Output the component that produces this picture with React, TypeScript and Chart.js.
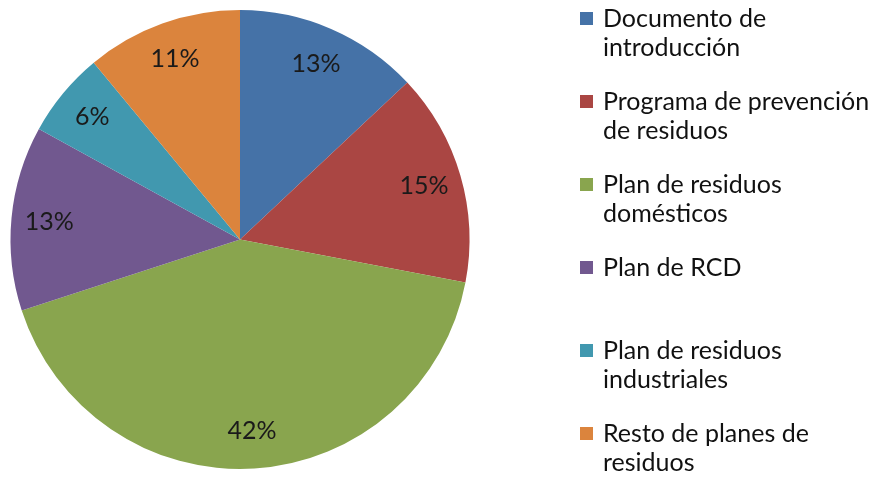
import React, { useEffect, useRef } from "react";
import { Chart, registerables } from "chart.js";

Chart.register(...registerables);

const categories: string[][] = [
  ["Documento de", "introducción"],
  ["Programa de prevención", "de residuos"],
  ["Plan de residuos", "domésticos"],
  ["Plan de RCD"],
  ["Plan de residuos", "industriales"],
  ["Resto de planes de", "residuos"],
];
const values: number[] = [13, 15, 42, 13, 6, 11];
const colors: string[] = ["#4572A7", "#AA4643", "#89A54E", "#71588F", "#4198AF", "#DB843D"];

const FONT = "Lato, 'Open Sans', sans-serif";

const labelPlugin = {
  id: "pctLabels",
  afterDatasetsDraw(chart: any) {
    const ctx = chart.ctx as CanvasRenderingContext2D;
    const meta = chart.getDatasetMeta(0);
    const total = values.reduce((a, b) => a + b, 0);
    ctx.save();
    ctx.font = `25px ${FONT}`;
    ctx.fillStyle = "#1a1a1a";
    ctx.textAlign = "center";
    ctx.textBaseline = "middle";
    meta.data.forEach((arc: any, i: number) => {
      const { x, y, startAngle, endAngle, outerRadius } = arc.getProps(
        ["x", "y", "startAngle", "endAngle", "outerRadius"],
        true
      );
      const mid = (startAngle + endAngle) / 2;
      const r = outerRadius * 0.835;
      const pct = Math.round((values[i] / total) * 100);
      ctx.fillText(`${pct}%`, x + Math.cos(mid) * r, y + Math.sin(mid) * r);
    });
    ctx.restore();
  },
};

const legendPlugin = {
  id: "sideLegend",
  afterDraw(chart: any) {
    const ctx = chart.ctx as CanvasRenderingContext2D;
    ctx.save();
    ctx.font = `25px ${FONT}`;
    ctx.textBaseline = "middle";
    ctx.textAlign = "left";
    const x0 = 580;
    const y0 = 18.5;
    const step = 83;
    const lh = 29.5;
    categories.forEach((lines, i) => {
      const y = y0 + i * step;
      ctx.fillStyle = colors[i];
      ctx.fillRect(x0, y - 6.5, 13, 13);
      ctx.fillStyle = "#111";
      lines.forEach((t, j) => ctx.fillText(t, x0 + 23, y + j * lh));
    });
    ctx.restore();
  },
};

export default function App() {
  const ref = useRef<HTMLCanvasElement | null>(null);
  useEffect(() => {
    document.body.style.margin = "0";
    const chart = new Chart(ref.current!, {
      type: "pie",
      data: {
        labels: categories.map((c) => c.join(" ")),
        datasets: [
          {
            data: values,
            backgroundColor: colors,
            borderWidth: 0,
          },
        ],
      },
      options: {
        animation: false,
        responsive: false,
        layout: { padding: { left: 10, right: 413, top: 10, bottom: 10 } },
        plugins: {
          legend: { display: false },
          tooltip: { enabled: false },
        },
      },
      plugins: [labelPlugin, legendPlugin],
    });
    return () => chart.destroy();
  }, []);
  return (
    <div style={{ width: 883, height: 479, background: "#fff" }}>
      <canvas ref={ref} width={883} height={479} />
    </div>
  );
}
